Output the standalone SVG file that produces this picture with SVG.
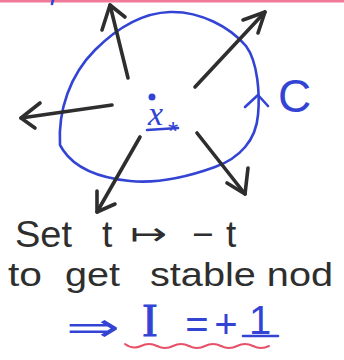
<svg xmlns="http://www.w3.org/2000/svg" width="344" height="360" viewBox="0 0 344 360">
<style>
.ink{fill:none;stroke:#2e2e2e;stroke-width:3.6;stroke-linecap:round;stroke-linejoin:round}
.blue{fill:none;stroke:#3344d4;stroke-width:2.6;stroke-linecap:round;stroke-linejoin:round}
.bt{fill:#3344d4;font-family:"Liberation Sans",sans-serif}
.kt{fill:#2e2e2e;font-family:"Liberation Sans",sans-serif}
.serif{font-family:"Liberation Serif",serif}
.dv{font-family:"DejaVu Sans",sans-serif}
</style>
<rect width="344" height="360" fill="#ffffff"/>
<line x1="0" y1="1" x2="344" y2="1" stroke="#f07a98" stroke-width="3"/>
<line x1="53" y1="0" x2="52" y2="4" class="blue"/>
<g id="curve-C">
<path class="blue" d="M60,145 C58,110 70,75 95,50 C115,30 140,13 170,12 C200,11 230,27 246,46 C258,62 260,95 258,115 C256,140 240,158 215,167 C190,176 160,184 130,181 C100,178 75,168 63,150 Z"/>
<polyline class="blue" points="245,107 258,95 268,106"/>
<text class="bt" x="278" y="112" font-size="46">C</text>
</g>
<g id="fixed-point">
<circle cx="152" cy="97" r="3.5" fill="#3344d4"/>
<text class="bt serif" x="148" y="125" font-size="34" font-style="italic">x</text>
<text class="bt" x="168" y="140" font-size="26">*</text>
<line class="blue" x1="147" y1="130" x2="178" y2="128"/>
</g>
<g id="connectors">
<line class="ink" x1="128" y1="78" x2="110" y2="5"/>
<polyline class="ink" points="102,30 110,5 125,17"/>
<line class="ink" x1="195" y1="87" x2="265" y2="12"/>
<polyline class="ink" points="243,20 265,12 258,33"/>
<line class="ink" x1="112" y1="105" x2="21" y2="118"/>
<polyline class="ink" points="40,103 21,118 35,128"/>
<line class="ink" x1="140" y1="137" x2="97" y2="212"/>
<polyline class="ink" points="97,191 97,212 115,204"/>
<line class="ink" x1="197" y1="133" x2="245" y2="194"/>
<polyline class="ink" points="227,183 245,194 248,168"/>
</g>
<g id="text-line1">
<text class="kt" x="15" y="247" font-size="37" textLength="57" lengthAdjust="spacingAndGlyphs">Set</text>
<text class="kt" x="102" y="247" font-size="37">t</text>
<text class="kt dv" x="130" y="245" font-size="32" textLength="37" lengthAdjust="spacingAndGlyphs">↦</text>
<text class="kt" x="192" y="247" font-size="37">−</text>
<text class="kt" x="226" y="247" font-size="37">t</text>
</g>
<g id="text-line2">
<text class="kt" x="8" y="286" font-size="34" textLength="34" lengthAdjust="spacingAndGlyphs">to</text>
<text class="kt" x="65" y="286" font-size="34" textLength="55" lengthAdjust="spacingAndGlyphs">get</text>
<text class="kt" x="150" y="286" font-size="34" textLength="183" lengthAdjust="spacingAndGlyphs">stable nod</text>
</g>
<g id="result">
<text class="bt dv" x="66" y="341" font-size="40" textLength="54" lengthAdjust="spacingAndGlyphs">⇒</text>
<text class="bt serif" x="150" y="336" font-size="46" text-anchor="middle" stroke="#3344d4" stroke-width="1">I</text>
<text class="bt" x="197" y="338" font-size="40" text-anchor="middle">=</text>
<text class="bt" x="226" y="338" font-size="40" text-anchor="middle">+</text>
<text class="bt" x="260" y="334" font-size="40" text-anchor="middle">1</text>
<line class="blue" x1="243" y1="336" x2="278" y2="336"/>
<path d="M125,344 q8,6 16,2 t16,0 t16,0 t16,0 t16,0 t16,0 t16,0 t16,0 t16,0" fill="none" stroke="#e8506a" stroke-width="2" stroke-linecap="round"/>
</g>
</svg>
